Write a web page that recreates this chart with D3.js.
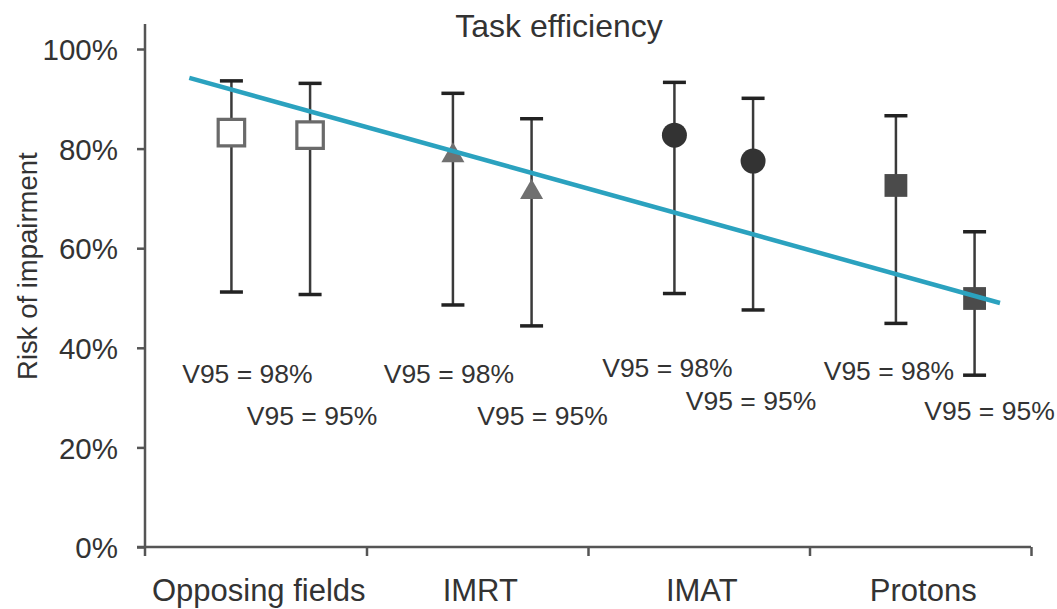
<!DOCTYPE html>
<meta charset="utf-8">
<style>
body { margin: 0; background: #fff; }
text { font-family: "Liberation Sans", Arial, sans-serif; fill: #333; }
.axis path, .axis line { stroke: #555; stroke-width: 2.5px; }
</style>
<body>
<script src="https://d3js.org/d3.v7.min.js"></script>
<script>
// data (risk of impairment, %)
var categories = ["Opposing fields", "IMRT", "IMAT", "Protons"];
var coverage = ["V95 = 98%", "V95 = 95%"];
var riskMid  = [[83.2, 82.7], [78.6, 71.2], [82.7, 77.5], [72.6, 49.9]];
var riskLow  = [[51.2, 50.7], [48.6, 44.4], [50.9, 47.6], [44.9, 34.5]];
var riskHigh = [[93.6, 93.1], [91.1, 86.0], [93.3, 90.1], [86.6, 63.3]];
var yTicks = [0, 20, 40, 60, 80, 100];
// hand drawn trend line: position in category units, risk in %
var trendPos = [0.2, 3.86];
var trendRisk = [94.2, 49.0];

// label placement (risk level of the baseline, pixel nudge)
var labelLevel = [[32.9, 24.5], [32.9, 24.5], [34.1, 27.5], [33.5, 25.5]];
var labelNudge = [[16, 2], [-4, 11], [-7, -2], [-7, 15]];

var width = 1057, height = 609;
var left = 145, right = 1031, bottom = 547;

var svg = d3.select("body").append("svg")
    .attr("width", width)
    .attr("height", height);

var y = d3.scaleLinear().domain([0, 105]).range([bottom, bottom - 105 * 4.98]);
var xPos = d3.scaleLinear().domain([0, categories.length]).range([left, right]);
var xBand = d3.scaleBand().domain(categories).range([left, right]);
var xInner = d3.scalePoint().domain(coverage).range([0, xBand.bandwidth()])
    .padding(0.908).align(0.605);

// flatten into points
var points = [];
categories.forEach(function(c, i) {
  coverage.forEach(function(v, j) {
    points.push({
      cat: i, cov: j, label: v,
      x: xBand(c) + xInner(v),
      mid: riskMid[i][j], lo: riskLow[i][j], hi: riskHigh[i][j],
      ly: labelLevel[i][j], dx: labelNudge[i][j]
    });
  });
});

// y axis
var yAxis = svg.append("g").attr("class", "axis")
    .attr("transform", "translate(" + left + ",0)")
    .call(d3.axisLeft(y).tickValues(yTicks).tickSize(8).tickPadding(19)
      .tickFormat(function(d) { return d + "%"; }));
yAxis.select(".domain").remove();
yAxis.append("line").attr("x1", 0).attr("x2", 0)
    .attr("y1", y(0) + 9).attr("y2", y(105));
yAxis.selectAll("text").style("font-size", "29.5px").attr("dy", "0.36em");

// x axis: ticks between categories
var xAxis = svg.append("g").attr("class", "axis")
    .attr("transform", "translate(0," + bottom + ")")
    .call(d3.axisBottom(xPos).tickValues([1, 2, 3, 4]).tickSize(9).tickFormat(""));
xAxis.select(".domain").remove();
xAxis.append("line").attr("x1", left - 8).attr("x2", right);

svg.append("g").attr("class", "labels")
  .selectAll("text").data(categories).enter().append("text")
    .attr("x", function(d) { return xBand(d) + xBand.bandwidth() / 2 + 3; })
    .attr("y", 601)
    .attr("text-anchor", "middle")
    .style("font-size", "31px")
    .text(function(d) { return d; });

// titles
svg.append("text")
    .attr("x", 559).attr("y", 37)
    .attr("text-anchor", "middle")
    .style("font-size", "32px")
    .text("Task efficiency");

svg.append("text")
    .attr("transform", "translate(37," + y(56.4) + ") rotate(-90)")
    .attr("text-anchor", "middle")
    .style("font-size", "27.5px")
    .text("Risk of impairment");

// error bars
var bars = svg.append("g").selectAll("g").data(points).enter().append("g");
bars.append("line")
    .attr("x1", function(d) { return d.x; }).attr("x2", function(d) { return d.x; })
    .attr("y1", function(d) { return y(d.lo); }).attr("y2", function(d) { return y(d.hi); })
    .attr("stroke", "#3a3a3a").attr("stroke-width", 2.5);
bars.selectAll(".cap")
    .data(function(d) { return [{x: d.x, v: d.lo}, {x: d.x, v: d.hi}]; })
  .enter().append("line")
    .attr("class", "cap")
    .attr("x1", function(d) { return d.x - 11.5; }).attr("x2", function(d) { return d.x + 11.5; })
    .attr("y1", function(d) { return y(d.v); }).attr("y2", function(d) { return y(d.v); })
    .attr("stroke", "#222").attr("stroke-width", 3.5);

// markers, one style per technique
var markerStyle = [
  {type: d3.symbolSquare, size: 700, fill: "#fff", stroke: "#6a6a6a"},
  {type: d3.symbolTriangle, size: 230, fill: "#707070", stroke: "none"},
  {type: d3.symbolCircle, size: 490, fill: "#333", stroke: "none"},
  {type: d3.symbolSquare, size: 520, fill: "#4b4b4b", stroke: "none"}
];
bars.append("path")
    .attr("transform", function(d) { return "translate(" + d.x + "," + y(d.mid) + ")"; })
    .attr("d", function(d) {
      var m = markerStyle[d.cat];
      return d3.symbol().type(m.type).size(m.size)();
    })
    .attr("fill", function(d) { return markerStyle[d.cat].fill; })
    .attr("stroke", function(d) { return markerStyle[d.cat].stroke; })
    .attr("stroke-width", 3.2);

// V95 labels
svg.append("g").selectAll("text").data(points).enter().append("text")
    .attr("x", function(d) { return d.x + d.dx; })
    .attr("y", function(d) { return y(d.ly); })
    .attr("text-anchor", "middle")
    .style("font-size", "26.5px")
    .text(function(d) { return d.label; });

// trend line on top
svg.append("line")
    .attr("x1", xPos(trendPos[0])).attr("y1", y(trendRisk[0]))
    .attr("x2", xPos(trendPos[1])).attr("y2", y(trendRisk[1]))
    .attr("stroke", "#2ba2bf").attr("stroke-width", 4.5);
</script>
